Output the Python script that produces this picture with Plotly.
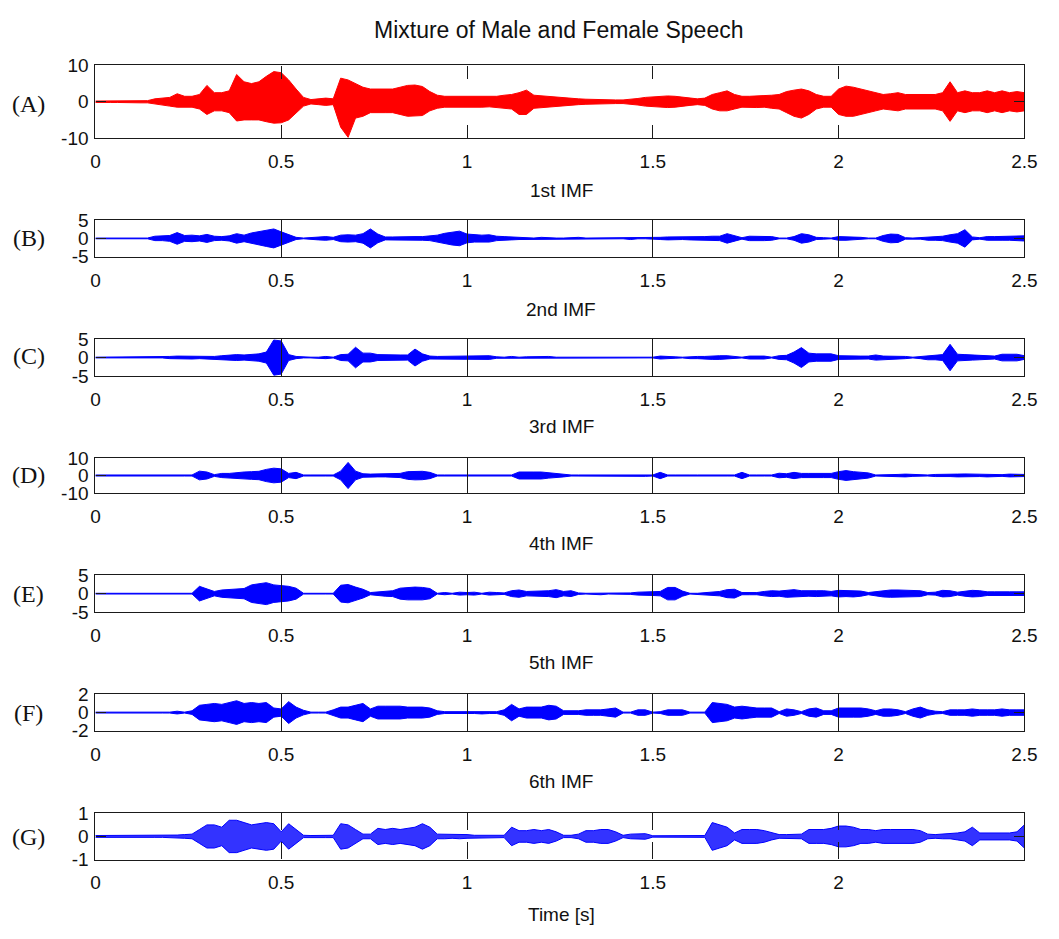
import numpy as np
import plotly.graph_objects as go

# Sample grid in seconds (0.02 s steps, 126 samples)
T = np.round(np.arange(0, 2.5 + 1e-9, 0.02), 2).tolist()

# Envelope of the mixed speech signal: positive peaks and negative peak magnitudes
MIX_UP = [0.2, 0.2, 0.2, 0.2, 0.2, 0.2, 0.3, 0.3, 0.8, 0.9,
          1.2, 2.2, 1.5, 1.5, 2.0, 4.5, 2.5, 2.5, 3.0, 7.5,
          5.5, 5.0, 5.5, 7.0, 8.3, 8.0, 6.0, 3.5, 1.2, 0.6,
          0.8, 1.0, 0.8, 6.5, 6.0, 5.0, 4.0, 3.5, 3.5, 3.5,
          3.5, 4.0, 4.5, 4.6, 4.2, 2.8, 1.8, 1.5, 1.5, 1.5,
          1.5, 1.6, 1.5, 1.4, 1.5, 1.8, 2.0, 2.5, 3.2, 1.8,
          1.6, 1.5, 1.2, 1.0, 1.0, 0.8, 0.7, 0.6, 0.5, 0.5,
          0.5, 0.5, 0.6, 0.9, 1.2, 1.4, 1.5, 1.6, 1.5, 1.3,
          1.0, 0.8, 1.0, 2.0, 2.5, 3.0, 2.0, 1.5, 1.5, 1.6,
          1.5, 1.8, 2.0, 2.8, 3.2, 3.5, 3.0, 2.0, 1.5, 1.5,
          3.5, 4.3, 4.0, 3.5, 3.0, 2.5, 2.0, 2.2, 2.5, 2.0,
          2.0, 2.0, 2.0, 2.0, 2.5, 5.5, 2.5, 3.0, 2.5, 2.5,
          3.0, 2.5, 3.0, 2.5, 2.8, 2.5]
MIX_LO = [0.2, 0.2, 0.2, 0.2, 0.2, 0.2, 0.3, 0.3, 0.8, 0.9,
          1.2, 1.5, 1.5, 1.5, 2.0, 3.5, 2.5, 2.5, 3.0, 5.3,
          5.0, 5.0, 5.0, 5.5, 5.9, 5.8, 5.0, 3.0, 1.2, 0.6,
          0.8, 1.0, 0.8, 7.0, 9.8, 4.5, 4.0, 3.0, 3.0, 3.0,
          3.0, 3.5, 4.0, 4.0, 3.8, 2.5, 1.8, 1.5, 1.5, 1.5,
          1.5, 1.5, 1.5, 1.4, 1.5, 1.8, 2.0, 3.5, 3.5, 1.8,
          1.6, 1.5, 1.2, 1.0, 1.0, 0.8, 0.7, 0.6, 0.5, 0.5,
          0.5, 0.5, 0.6, 0.9, 1.2, 1.4, 1.5, 1.6, 1.5, 1.3,
          1.0, 0.8, 1.0, 2.0, 2.5, 2.5, 2.0, 1.5, 1.5, 1.6,
          1.5, 1.8, 2.0, 3.0, 4.0, 4.5, 3.5, 2.0, 1.5, 1.5,
          3.5, 4.0, 4.0, 3.5, 3.0, 2.5, 2.0, 2.2, 2.5, 2.0,
          2.0, 2.0, 2.0, 2.0, 2.5, 5.4, 2.5, 3.0, 2.5, 2.5,
          3.0, 2.5, 3.0, 2.5, 2.8, 2.5]

# Envelope amplitudes of the intrinsic mode functions
IMF1 = [0.1, 0.1, 0.1, 0.1, 0.1, 0.1, 0.1, 0.1, 0.6, 0.6,
        0.8, 1.6, 0.8, 0.9, 0.7, 1.1, 0.6, 0.5, 0.7, 1.3,
        0.9, 1.5, 1.8, 2.2, 2.6, 1.8, 1.0, 0.3, 0.1, 0.3,
        0.4, 0.5, 0.3, 0.9, 1.0, 0.9, 1.3, 2.6, 1.2, 0.4,
        0.4, 0.5, 0.4, 0.5, 0.5, 0.6, 0.9, 1.4, 1.8, 2.0,
        1.2, 1.0, 0.9, 1.0, 0.6, 0.5, 0.4, 0.3, 0.3, 0.1,
        0.3, 0.1, 0.1, 0.1, 0.3, 0.3, 0.1, 0.1, 0.1, 0.1,
        0.1, 0.1, 0.3, 0.1, 0.1, 0.1, 0.3, 0.4, 0.4, 0.3,
        0.4, 0.5, 0.5, 0.6, 0.6, 1.3, 0.8, 0.2, 0.6, 0.6,
        0.6, 0.5, 0.1, 0.1, 0.5, 1.3, 1.0, 0.3, 0.2, 0.1,
        0.5, 0.5, 0.4, 0.3, 0.1, 0.1, 0.8, 1.2, 1.1, 0.2,
        0.1, 0.2, 0.5, 0.5, 0.6, 1.0, 1.3, 2.4, 0.4, 0.2,
        0.5, 0.5, 0.5, 0.5, 0.5, 0.7]
IMF2 = [0.1, 0.1, 0.1, 0.1, 0.1, 0.1, 0.1, 0.1, 0.1, 0.1,
        0.3, 0.4, 0.4, 0.4, 0.3, 0.2, 0.3, 0.5, 0.7, 0.8,
        0.7, 0.8, 1.0, 1.5, 4.8, 4.5, 0.8, 0.3, 0.1, 0.1,
        0.1, 0.3, 0.1, 0.8, 0.9, 2.8, 1.2, 1.2, 0.8, 0.7,
        0.6, 0.7, 0.7, 2.3, 1.0, 0.4, 0.3, 0.3, 0.3, 0.3,
        0.5, 0.5, 0.5, 0.5, 0.2, 0.1, 0.3, 0.1, 0.2, 0.3,
        0.3, 0.3, 0.1, 0.1, 0.3, 0.1, 0.1, 0.1, 0.1, 0.1,
        0.1, 0.1, 0.1, 0.1, 0.1, 0.1, 0.4, 0.4, 0.2, 0.1,
        0.3, 0.3, 0.3, 0.5, 0.5, 0.5, 0.3, 0.1, 0.4, 0.4,
        0.4, 0.1, 0.5, 0.6, 1.5, 2.7, 1.2, 1.0, 0.9, 1.0,
        0.5, 0.4, 0.5, 0.4, 0.4, 0.7, 0.4, 0.4, 0.4, 0.3,
        0.1, 0.3, 0.6, 0.6, 0.8, 3.6, 0.9, 0.8, 0.7, 0.6,
        0.4, 0.4, 0.9, 1.0, 0.9, 0.5]
IMF3 = [0.3, 0.3, 0.3, 0.3, 0.3, 0.3, 0.3, 0.3, 0.3, 0.3,
        0.3, 0.3, 0.3, 0.3, 2.5, 2.0, 0.5, 1.2, 1.2, 1.8,
        2.0, 2.2, 2.4, 3.5, 4.2, 3.8, 1.2, 1.8, 0.3, 0.3,
        0.3, 0.3, 0.3, 2.5, 7.5, 2.5, 1.0, 0.8, 0.8, 0.8,
        0.8, 1.2, 2.2, 2.5, 2.4, 1.8, 0.3, 0.3, 0.3, 0.3,
        0.3, 0.3, 0.3, 0.3, 0.3, 0.3, 0.3, 2.0, 2.2, 2.0,
        2.0, 1.5, 1.0, 0.8, 0.3, 0.3, 0.3, 0.3, 0.3, 0.3,
        0.3, 0.3, 0.3, 0.5, 0.5, 0.3, 1.8, 0.3, 0.3, 0.5,
        0.3, 0.3, 0.3, 0.3, 0.3, 0.3, 0.3, 1.8, 0.3, 0.3,
        0.3, 0.3, 1.3, 1.0, 1.8, 1.2, 1.2, 1.2, 1.2, 1.2,
        2.2, 2.8, 2.2, 2.0, 1.5, 0.3, 0.3, 0.3, 0.6, 0.8,
        0.5, 0.3, 0.3, 0.6, 0.8, 0.6, 0.8, 0.9, 0.8, 0.6,
        0.8, 0.7, 0.5, 0.8, 0.8, 0.6]
IMF4 = [0.1, 0.1, 0.1, 0.1, 0.1, 0.1, 0.1, 0.1, 0.1, 0.1,
        0.1, 0.1, 0.1, 0.1, 2.0, 1.2, 0.6, 1.0, 1.2, 1.3,
        1.4, 2.4, 2.8, 3.0, 2.4, 2.2, 2.0, 1.5, 0.1, 0.1,
        0.1, 0.1, 0.1, 2.3, 2.5, 1.8, 1.2, 0.3, 0.5, 0.7,
        0.8, 1.5, 1.7, 1.8, 1.7, 1.4, 0.1, 0.3, 0.1, 0.4,
        0.3, 0.4, 0.1, 0.4, 0.3, 0.2, 0.8, 1.0, 0.6, 0.6,
        0.7, 0.8, 1.1, 0.6, 0.8, 0.2, 0.1, 0.1, 0.3, 0.1,
        0.1, 0.1, 0.2, 0.4, 0.5, 0.5, 0.6, 1.7, 1.7, 0.7,
        0.1, 0.1, 0.2, 0.5, 0.6, 1.1, 1.2, 0.3, 0.3, 0.3,
        0.6, 0.8, 0.7, 1.0, 1.1, 0.8, 0.7, 0.8, 0.8, 0.6,
        0.9, 0.8, 0.9, 0.7, 0.3, 0.5, 0.9, 1.0, 1.0, 1.0,
        0.9, 0.8, 0.3, 0.4, 0.9, 0.8, 0.4, 0.7, 0.9, 0.8,
        0.5, 0.5, 0.4, 0.5, 0.5, 0.5]
IMF5 = [0.05, 0.05, 0.05, 0.05, 0.05, 0.05, 0.05, 0.05, 0.05, 0.05,
        0.05, 0.15, 0.05, 0.2, 0.8, 0.9, 1.0, 0.9, 1.1, 1.3,
        1.0, 1.1, 1.0, 1.1, 0.5, 0.4, 1.2, 0.6, 0.25, 0.05,
        0.05, 0.05, 0.3, 0.6, 0.6, 0.8, 1.0, 0.4, 0.7, 0.7,
        0.7, 0.7, 0.6, 0.6, 0.6, 0.5, 0.2, 0.1, 0.1, 0.1,
        0.1, 0.1, 0.15, 0.1, 0.1, 0.3, 0.9, 0.4, 0.6, 0.6,
        0.6, 0.8, 0.7, 0.2, 0.2, 0.2, 0.3, 0.3, 0.3, 0.4,
        0.5, 0.05, 0.05, 0.3, 0.3, 0.05, 0.1, 0.3, 0.3, 0.3,
        0.05, 0.05, 0.05, 1.1, 1.0, 0.9, 0.6, 0.7, 0.6, 0.5,
        0.5, 0.5, 0.1, 0.4, 0.3, 0.1, 0.4, 0.5, 0.2, 0.2,
        0.5, 0.5, 0.5, 0.5, 0.4, 0.2, 0.4, 0.4, 0.3, 0.1,
        0.4, 0.6, 0.3, 0.15, 0.1, 0.3, 0.3, 0.3, 0.4, 0.3,
        0.3, 0.3, 0.4, 0.3, 0.3, 0.3]
IMF6 = [0.04, 0.04, 0.04, 0.04, 0.04, 0.04, 0.04, 0.04, 0.04, 0.04,
        0.04, 0.06, 0.08, 0.1, 0.3, 0.5, 0.5, 0.4, 0.7, 0.7,
        0.6, 0.5, 0.55, 0.6, 0.55, 0.2, 0.55, 0.3, 0.05, 0.04,
        0.05, 0.05, 0.05, 0.55, 0.5, 0.3, 0.1, 0.1, 0.35, 0.3,
        0.35, 0.3, 0.35, 0.4, 0.55, 0.4, 0.1, 0.1, 0.08, 0.1,
        0.08, 0.05, 0.05, 0.05, 0.05, 0.05, 0.4, 0.25, 0.25, 0.3,
        0.25, 0.3, 0.2, 0.05, 0.05, 0.1, 0.25, 0.25, 0.3, 0.3,
        0.2, 0.05, 0.1, 0.12, 0.12, 0.03, 0.03, 0.03, 0.03, 0.03,
        0.04, 0.04, 0.04, 0.6, 0.5, 0.4, 0.15, 0.3, 0.3, 0.3,
        0.25, 0.15, 0.08, 0.08, 0.1, 0.1, 0.3, 0.3, 0.3, 0.35,
        0.45, 0.45, 0.4, 0.3, 0.3, 0.25, 0.3, 0.3, 0.3, 0.3,
        0.3, 0.25, 0.1, 0.08, 0.1, 0.1, 0.15, 0.2, 0.4, 0.15,
        0.15, 0.15, 0.15, 0.15, 0.2, 0.5]

PANEL_TAGS = ["(A)", "(B)", "(C)", "(D)", "(E)", "(F)", "(G)"]
IMF_TITLES = ["1st IMF", "2nd IMF", "3rd IMF", "4th IMF", "5th IMF", "6th IMF", "Time [s]"]
Y_LIMITS = [10, 5, 5, 10, 5, 2, 1]
X_TICKS = [0, 0.5, 1, 1.5, 2, 2.5]
X_TICK_TEXT = ["0", "0.5", "1", "1.5", "2", "2.5"]

W, H = 1059, 939
SANS = "Liberation Sans, Arial, Helvetica, sans-serif"
SERIF = "Liberation Serif, Times New Roman, serif"

# pixel layout of each axes box (top, bottom) and its text rows
BOXES = [(56.7, 131.0), (215.0, 252.3), (336.7, 374.3), (458.3, 494.0),
         (578.3, 615.7), (700.0, 737.3), (821.7, 869.0)]
TAG_Y = [96, 233, 354, 476, 597, 719, 846]
CAPTION_Y = [185, 306, 426, 546, 667, 789, 925]
TICKLEN = [13, 20, 20, 20, 20, 20, 17]
X0, X1 = 92, 1037

envelopes = [(MIX_UP, MIX_LO), (IMF1, IMF1), (IMF2, IMF2), (IMF3, IMF3),
             (IMF4, IMF4), (IMF5, IMF5), (IMF6, IMF6)]
line_colors = ["#ff0000"] + ["#0000ff"] * 6
fill_colors = ["#ff0000"] + ["#0000ff"] * 5 + ["rgba(0,0,255,0.8)"]

fig = go.Figure()
for k, (up, lo) in enumerate(envelopes):
    n = k + 1
    xs = T + T[::-1]
    ys = list(up) + [-v for v in lo[::-1]]
    fig.add_trace(go.Scatter(
        x=xs, y=ys, mode="lines", fill="toself", fillcolor=fill_colors[k],
        line=dict(color=line_colors[k], width=1), hoverinfo="skip",
        showlegend=False, xaxis=f"x{n}", yaxis=f"y{n}"))

    top, bot = BOXES[k]
    xt = X_TICKS if k < 6 else X_TICKS[:-1]
    xtt = X_TICK_TEXT if k < 6 else X_TICK_TEXT[:-1]
    lim = Y_LIMITS[k]
    axis_common = dict(showline=True, linecolor="#1a1a1a", linewidth=1.2,
                       mirror="ticks", ticks="inside", tickcolor="#1a1a1a",
                       tickwidth=1.2, showgrid=False, zeroline=False,
                       fixedrange=True,
                       tickfont=dict(family=SANS, size=19, color="#111"))
    fig.update_layout(**{
        f"xaxis{n}": dict(domain=[X0 / W, X1 / W], range=[0, 2.5],
                          tickvals=xt, ticktext=xtt, ticklen=TICKLEN[k],
                          anchor=f"y{n}", ticklabelstandoff=6, **axis_common),
        f"yaxis{n}": dict(domain=[1 - bot / H, 1 - top / H], range=[-lim, lim],
                          tickvals=[-lim, 0, lim],
                          ticktext=[str(-lim), "0", str(lim)],
                          ticklen=10, anchor=f"x{n}", ticklabelstandoff=2,
                          **axis_common),
    })

annotations = [dict(text="Mixture of Male and Female Speech", x=563 / W, y=1 - 20 / H,
                    xref="paper", yref="paper", showarrow=False,
                    xanchor="center", yanchor="middle",
                    font=dict(family=SANS, size=23, color="#111"))]
for k in range(7):
    annotations.append(dict(text=PANEL_TAGS[k], x=24 / W, y=1 - TAG_Y[k] / H,
                            xref="paper", yref="paper", showarrow=False,
                            xanchor="center", yanchor="middle",
                            font=dict(family=SERIF, size=24, color="#111")))
    annotations.append(dict(text=IMF_TITLES[k], x=566 / W, y=1 - CAPTION_Y[k] / H,
                            xref="paper", yref="paper", showarrow=False,
                            xanchor="center", yanchor="middle",
                            font=dict(family=SANS, size=19, color="#111")))

fig.update_layout(width=W, height=H, margin=dict(l=0, r=0, t=0, b=0),
                  paper_bgcolor="white", plot_bgcolor="white",
                  annotations=annotations, showlegend=False)

fig.write_html("out.html")
